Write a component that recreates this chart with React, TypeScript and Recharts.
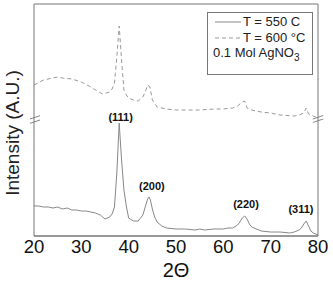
import { LineChart, Line, XAxis, YAxis, ReferenceLine, ReferenceDot, Legend, Label } from "recharts";

const FONT = "'Liberation Sans', Arial, sans-serif";

// 2-theta (deg) / intensity (a.u.)
const theta550 = [20, 21, 22, 23, 24, 25, 26, 27, 28, 29, 30, 31, 32, 33, 34, 35, 36, 36.5, 37, 37.5, 38, 38.5, 39, 39.5, 40, 41, 42, 43, 43.5, 44, 44.3, 44.6, 45, 45.5, 46, 47, 48, 50, 52, 54, 55, 56, 58, 60, 61, 62, 63, 63.5, 64, 64.5, 65, 65.5, 66, 68, 70, 72, 74, 75, 76, 76.5, 77, 77.5, 78, 78.5, 79, 80];
const int550 = [30, 30, 29, 29, 28, 29, 27, 28, 26, 26, 25, 25, 24, 23, 21, 17, 19, 22, 29, 63, 113, 76, 46, 30, 18, 15, 15, 21, 29, 37, 39, 36, 27, 19, 14, 10, 8, 7, 7, 6, 7, 6, 7, 7, 8, 8, 11, 14, 18, 20, 17, 12, 9, 5, 4, 4, 3, 4, 6, 8, 12, 15, 10, 5, 3, 1];

const theta600 = [20, 22, 24, 25, 26, 28, 30, 32, 33, 34.5, 36, 36.5, 37, 37.5, 38, 38.5, 39, 39.5, 40, 41, 42, 43, 43.5, 44, 44.5, 45, 46, 48, 50, 52, 55, 58, 60, 62, 63, 64, 64.5, 65, 66, 68, 70, 72, 75, 76, 77, 77.5, 78, 79, 80];
const int600 = [151, 156, 158, 159, 158, 157, 154, 149, 146, 142, 144, 147, 153, 179, 210, 176, 146, 141, 138, 136, 135, 139, 144, 151, 149, 136, 129, 127, 126, 126, 126, 127, 127, 128, 130, 134, 135, 128, 126, 124, 123, 121, 120, 121, 123, 128, 122, 120, 118];

const xTicks = [20, 25, 30, 35, 40, 45, 50, 55, 60, 65, 70, 75, 80];
const yTicks = [0, 15, 30, 45, 60, 75, 90, 105, 127.5, 137, 146.5, 156, 165.5, 175, 184.5, 194, 203.5, 213, 222.5, 232];

const peakNames = ["(111)", "(200)", "(220)", "(311)"];
const peakTheta = [38.3, 44.9, 64.8, 76.4];
const peakLevel = [119, 50, 32, 27];

// axis break symbols: [x1, y1, x2, y2] in data units
const breaks = [
  [19.15, 117, 21.27, 120.3],
  [19.15, 112.7, 21.27, 116],
  [78.9, 117, 81.1, 120.5],
  [78.9, 113.5, 81.1, 117],
];

const seriesA = "T = 550 C";
const seriesB = "T = 600 °C";

const data550 = theta550.map((t, i) => ({ t, v: int550[i] }));
const data600 = theta600.map((t, i) => ({ t, v: int600[i] }));

const AXIS = "#777";

const LegendBox = () => (
  <div style={{ position: "relative", width: 106, height: 63, border: `1px solid ${AXIS}`, boxSizing: "border-box", background: "#fff", fontFamily: FONT, fontSize: 13, color: "#222" }}>
    <svg width={30} height={50} style={{ position: "absolute", left: 7, top: 0 }}>
      <line x1={0} x2={26} y1={9} y2={9} stroke="#888" />
      <line x1={0} x2={26} y1={25} y2={25} stroke="#999" strokeDasharray="4 3" />
    </svg>
    <div style={{ position: "absolute", left: 35, top: 1, whiteSpace: "nowrap" }}>{seriesA}</div>
    <div style={{ position: "absolute", left: 35, top: 17, whiteSpace: "nowrap" }}>{seriesB}</div>
    <div style={{ position: "absolute", left: 5, top: 32, whiteSpace: "nowrap" }}>
      0.1 Mol AgNO<sub style={{ fontSize: 10 }}>3</sub>
    </div>
  </div>
);

const YTitle = (props: any) => {
  const { x, y, height } = props.viewBox;
  const cx = x + 12;
  const cy = y + height / 2 + 13;
  return (
    <text x={cx} y={cy} transform={`rotate(-90 ${cx} ${cy})`} textAnchor="middle" dominantBaseline="central" fontFamily={FONT} fontSize={19} fill="#222">
      Intensity (A.U.)
    </text>
  );
};

export default function App() {
  return (
    <div>
      <style>{"body{margin:0}"}</style>
      <LineChart width={333} height={288} data={data550} margin={{ top: 4, right: 15, bottom: 22, left: 0 }}>
        <XAxis xAxisId="b" dataKey="t" type="number" domain={[20, 80]} ticks={xTicks} allowDataOverflow
          tickFormatter={(v) => (v % 10 === 0 ? String(v) : "")} tickLine={false} tickSize={0} tickMargin={4} height={30}
          stroke={AXIS} tick={{ fontSize: 18.5, fill: "#111", fontFamily: FONT }}>
          <Label value="2Θ" position="bottom" offset={-3} style={{ fontSize: 20, fill: "#111", fontFamily: FONT }} />
        </XAxis>
        <XAxis xAxisId="bm" dataKey="t" type="number" domain={[20, 80]} ticks={xTicks} orientation="bottom" mirror tick={false} tickSize={4} stroke={AXIS} />
        <XAxis xAxisId="tm" dataKey="t" type="number" domain={[20, 80]} ticks={xTicks} orientation="top" mirror tick={false} tickSize={4} stroke={AXIS} />
        <YAxis yAxisId="l" type="number" domain={[0, 232]} ticks={yTicks} width={34} tick={false} tickSize={4} stroke={AXIS} allowDataOverflow>
          <Label content={YTitle} />
        </YAxis>
        <YAxis yAxisId="r" type="number" domain={[0, 232]} ticks={yTicks} orientation="right" mirror tick={false} tickSize={3} stroke={AXIS} />
        <Legend layout="vertical" align="center" verticalAlign="middle" content={LegendBox} wrapperStyle={{ left: 207, top: 12, width: 106, height: 63 }} />
        {breaks.map((b, i) => (
          <ReferenceLine key={i} xAxisId="b" yAxisId="l" segment={[{ x: b[0], y: b[1] }, { x: b[2], y: b[3] }]} stroke="#888" ifOverflow="visible" />
        ))}
        <Line xAxisId="b" yAxisId="l" data={data600} dataKey="v" name={seriesB} type="linear" stroke="#999" strokeDasharray="4 3" strokeWidth={1} dot={false} isAnimationActive={false} />
        <Line xAxisId="b" yAxisId="l" data={data550} dataKey="v" name={seriesA} type="linear" stroke="#888" strokeWidth={1} dot={false} isAnimationActive={false} />
        {peakNames.map((n, i) => (
          <ReferenceDot key={n} xAxisId="b" yAxisId="l" x={peakTheta[i]} y={peakLevel[i]} r={0} stroke="none" fill="none"
            label={{ value: n, position: "center", fontSize: 11, fontWeight: "bold", fill: "#111", fontFamily: FONT }} />
        ))}
      </LineChart>
    </div>
  );
}
